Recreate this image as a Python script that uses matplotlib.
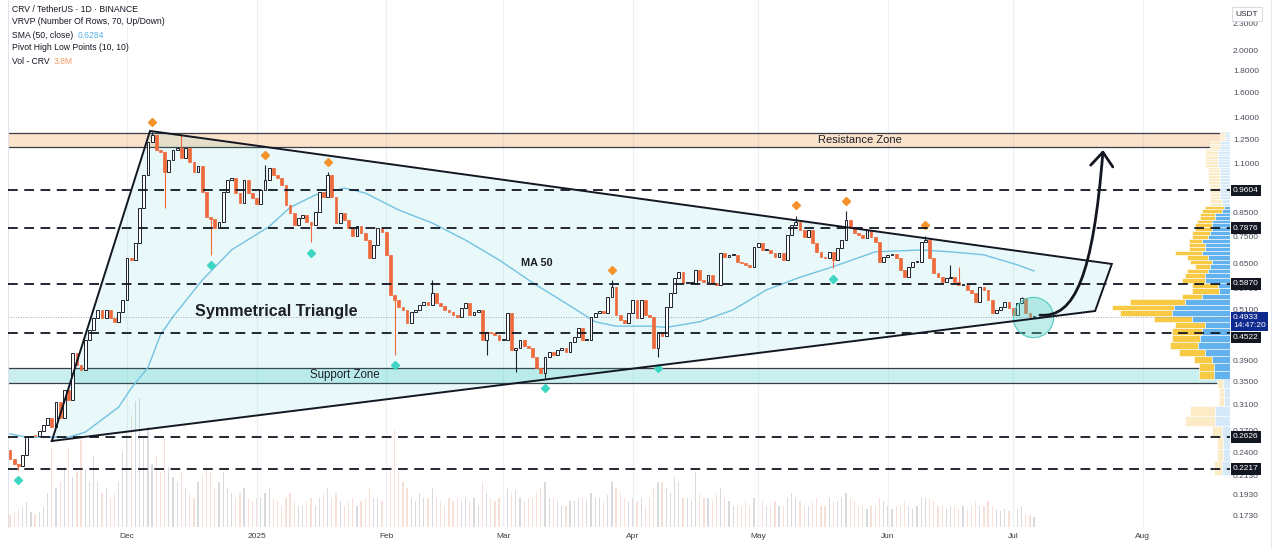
import numpy as np
import pandas as pd
import matplotlib
matplotlib.use("Agg")
import matplotlib.pyplot as plt
import matplotlib.transforms as mtransforms
from matplotlib.patches import Polygon, Rectangle, FancyArrowPatch
from matplotlib.path import Path
from matplotlib.ticker import NullLocator
from matplotlib.lines import Line2D

plt.rcParams['font.family'] = ['Liberation Sans', 'DejaVu Sans']

# ---------------- data ----------------
start_date = "2024-11-03"
first_open = 0.245
closes = [
    0.233, 0.227, 0.225, 0.238, 0.262, 0.264, 0.263, 0.270, 0.280, 0.290,
    0.277, 0.316, 0.290, 0.336, 0.319, 0.408, 0.383, 0.373, 0.437, 0.461,
    0.490, 0.512, 0.490, 0.512, 0.490, 0.480, 0.506, 0.539, 0.673, 0.666,
    0.727, 0.875, 1.041, 1.238, 1.286, 1.188, 1.175, 1.058, 1.127, 1.188,
    1.200, 1.139, 1.200, 1.115, 1.058, 1.092, 0.952, 0.835, 0.826, 0.788,
    0.813, 0.952, 1.014, 1.025, 0.947, 0.899, 1.014, 0.947, 0.923, 0.894,
    0.962, 1.014, 1.080, 1.041, 1.025, 0.988, 0.889, 0.852, 0.801, 0.830,
    0.844, 0.813, 0.801, 0.857, 0.952, 0.928, 1.041, 0.928, 0.809, 0.852,
    0.822, 0.788, 0.756, 0.797, 0.768, 0.739, 0.673, 0.720, 0.788, 0.772,
    0.684, 0.554, 0.539, 0.520, 0.512, 0.478, 0.506, 0.512, 0.525, 0.533,
    0.525, 0.560, 0.530, 0.522, 0.512, 0.506, 0.498, 0.493, 0.517, 0.530,
    0.498, 0.506, 0.512, 0.437, 0.456, 0.454, 0.449, 0.437, 0.437, 0.503,
    0.415, 0.419, 0.437, 0.424, 0.419, 0.400, 0.377, 0.368, 0.400, 0.410,
    0.404, 0.415, 0.419, 0.410, 0.433, 0.444, 0.466, 0.437, 0.437, 0.493,
    0.503, 0.509, 0.503, 0.548, 0.578, 0.498, 0.485, 0.478, 0.503, 0.539,
    0.490, 0.539, 0.498, 0.493, 0.419, 0.456, 0.447, 0.520, 0.560, 0.606,
    0.625, 0.590, 0.590, 0.590, 0.632, 0.599, 0.593, 0.616, 0.590, 0.584,
    0.691, 0.677, 0.684, 0.684, 0.659, 0.656, 0.649, 0.642, 0.713, 0.727,
    0.702, 0.702, 0.691, 0.677, 0.691, 0.666, 0.760, 0.801, 0.813, 0.780,
    0.752, 0.780, 0.727, 0.695, 0.677, 0.673, 0.695, 0.666, 0.709, 0.739,
    0.822, 0.788, 0.768, 0.760, 0.748, 0.780, 0.752, 0.731, 0.659, 0.677,
    0.684, 0.688, 0.673, 0.632, 0.609, 0.642, 0.659, 0.659, 0.731, 0.739,
    0.673, 0.622, 0.609, 0.593, 0.606, 0.609, 0.593, 0.584, 0.584, 0.569,
    0.560, 0.533, 0.578, 0.569, 0.539, 0.503, 0.512, 0.520, 0.533, 0.517,
    0.498, 0.530, 0.545, 0.503, 0.493, 0.4933]

wick_high_idx = [34, 41, 61, 76, 101, 144, 188, 200, 219, 225, 227, 242]
wick_high_val = [1.306, 1.300, 1.098, 1.058, 0.599, 0.599, 0.840, 0.862, 0.756, 0.649, 0.642, 0.549]
wick_low_idx = [2, 37, 48, 72, 92, 114, 121, 128, 155, 197]
wick_low_val = [0.221, 0.875, 0.684, 0.731, 0.404, 0.404, 0.370, 0.358, 0.399, 0.637]

volume_m = [
    4.6, 5.7, 6.8, 7.6, 9.5, 5.7, 4.6, 5.7, 7.6, 13,
    30, 15, 17, 23, 30, 19, 21, 33, 22, 17,
    27, 17, 13, 15, 11, 13, 17, 29, 36, 42,
    48, 49, 34, 38, 24, 27, 21, 34, 23, 19,
    17, 21, 15, 13, 11, 17, 19, 23, 21, 15,
    17, 21, 15, 13, 11, 13, 15, 11, 10, 11,
    11, 13, 15, 11, 10, 8, 11, 13, 10, 8,
    8, 10, 11, 8, 11, 13, 15, 11, 13, 10,
    8, 10, 11, 8, 10, 11, 15, 11, 11, 10,
    13, 23, 37, 21, 17, 15, 11, 10, 13, 11,
    11, 15, 11, 10, 8, 11, 10, 11, 10, 11,
    10, 11, 8, 17, 13, 11, 10, 11, 10, 15,
    13, 14, 11, 10, 11, 11, 13, 15, 17, 11,
    11, 10, 8, 8, 10, 10, 11, 11, 10, 13,
    11, 11, 10, 12, 17, 15, 13, 11, 10, 11,
    10, 11, 8, 11, 15, 17, 17, 15, 13, 19,
    17, 11, 11, 10, 21, 13, 11, 11, 10, 13,
    15, 11, 10, 8, 8, 8, 10, 8, 11, 13,
    10, 8, 8, 10, 8, 8, 11, 13, 11, 10,
    8, 8, 10, 11, 8, 8, 11, 10, 10, 11,
    13, 11, 10, 8, 8, 7, 8, 8, 11, 10,
    8, 7, 8, 8, 10, 8, 7, 8, 11, 11,
    11, 10, 8, 8, 7, 8, 8, 7, 8, 7,
    8, 10, 8, 8, 10, 8, 7, 6, 7, 6,
    6, 7, 8, 5, 4.5, 3.8]

ma50_idx = [0, 4, 14, 18, 26, 29, 33, 36, 39, 46, 53, 62, 67, 73, 80, 85, 93, 101, 109,
            117, 125, 133, 140, 145, 153, 157, 165, 173, 181, 189, 197, 207, 218, 225,
            233, 241, 245]
ma50_val = [0.2665, 0.262, 0.262, 0.269, 0.307, 0.339, 0.378, 0.449, 0.494, 0.599, 0.702,
            0.794, 0.878, 0.937, 0.972, 0.947, 0.866, 0.809, 0.739, 0.666, 0.591, 0.530,
            0.481, 0.470, 0.470, 0.467, 0.481, 0.512, 0.569, 0.608, 0.643, 0.695, 0.702,
            0.695, 0.684, 0.649, 0.6284]

pivot_high_idx = [34, 61, 76, 144, 188, 200, 219]
pivot_low_idx = [2, 48, 72, 92, 128, 155, 197]

key_levels = [0.9604, 0.7876, 0.5870, 0.4522, 0.2626, 0.2217]
current_price = 0.4933
countdown = "14:47:20"
resistance_zone = (1.205, 1.301)
support_zone = (0.3487, 0.377)

triangle_idx = [10.0, 33.5, 263.6, 259.6]
triangle_price = [0.2568, 1.313, 0.652, 0.509]
arrow_idx = [246.4, 254.8, 259.1, 261.5]
arrow_price = [0.498, 0.4906, 0.615, 1.188]
circle_idx, circle_price = 244.7, 0.493

vp_low, vp_high, vp_rows = 0.215, 1.306, 70
vp_total = [16, 13, 13, 18, 45, 40, 11, 11, 13, 31,
            31, 36, 51, 60, 58, 58, 55, 76, 110, 118,
            100, 48, 38, 38, 48, 45, 43, 35, 40, 43,
            55, 41, 41, 41, 38, 38, 35, 35, 33, 30,
            30, 28, 25, 20, 20, 20, 20, 20, 20, 20,
            22, 22, 22, 22, 22, 22, 25, 25, 25, 25,
            25, 25, 25, 20, 20, 20, 10, 10, 10, 10]
vp_up = [8, 7, 7, 8, 15, 15, 6, 6, 7, 16,
         16, 18, 25, 32, 30, 28, 25, 38, 58, 56,
         45, 28, 11, 12, 25, 25, 22, 20, 18, 22,
         28, 25, 25, 28, 22, 20, 18, 18, 18, 15,
         15, 8, 6, 8, 8, 10, 10, 10, 10, 10,
         10, 10, 10, 10, 10, 10, 12, 12, 12, 12,
         12, 12, 12, 10, 10, 10, 5, 5, 5, 5]
value_area_rows = (9, 42)

price_ticks = [2.3, 2.0, 1.8, 1.6, 1.4, 1.25, 1.1, 0.85, 0.75, 0.65, 0.57, 0.51,
               0.39, 0.35, 0.31, 0.27, 0.24, 0.213, 0.193, 0.173]
month_labels = ["Dec", "2025", "Feb", "Mar", "Apr", "May", "Jun", "Jul", "Aug"]
month_dates = ["2024-12-01", "2025-01-01", "2025-02-01", "2025-03-01", "2025-04-01",
               "2025-05-01", "2025-06-01", "2025-07-01", "2025-08-01"]

legend_lines = ["CRV / TetherUS · 1D · BINANCE", "VRVP (Number Of Rows, 70, Up/Down)",
                "SMA (50, close)", "Pivot High Low Points (10, 10)", "Vol - CRV"]
legend_values = [None, None, "0.6284", None, "3.8M"]

# ---------------- figure ----------------
W, H = 1278, 549
fig = plt.figure(figsize=(W / 100, H / 100), dpi=100)
fig.patch.set_facecolor("white")
rect = [8 / W, 22 / H, 1222 / W, 527 / H]
xlim = (-0.48, 291.87)
ylim = (0.1633, 2.616)

axv = fig.add_axes(rect, zorder=0)
ax = fig.add_axes(rect, zorder=1)
ax.patch.set_alpha(0)

n = min(len(closes), len(volume_m))
x = np.arange(n)
c = np.array(closes[:n])
o = np.r_[first_open, c[:-1]]
body_lo = np.minimum(o, c)
body_hi = np.maximum(o, c)
hi = body_hi.copy()
lo = body_lo.copy()
hi[wick_high_idx] = np.maximum(hi[wick_high_idx], wick_high_val)
lo[wick_low_idx] = np.minimum(lo[wick_low_idx], wick_low_val)
up = c >= o

# volume
vol = np.array(volume_m[:n])
axv.bar(x[up], vol[up], width=0.3, color="#d8dade", lw=0)
axv.bar(x[~up], vol[~up], width=0.3, color="#f6e0d7", lw=0)
axv.set_xlim(*xlim)
axv.set_ylim(0, max(vol) * 4.09)
axv.axis("off")

ax.set_yscale("log")
ax.set_xlim(*xlim)
ax.set_ylim(*ylim)

# month grid
t0 = pd.Timestamp(start_date)
month_pos = [(pd.Timestamp(d) - t0).days for d in month_dates]
for mp in month_pos:
    ax.axvline(mp, color="#eef0f4", lw=0.9, zorder=0.2)

# zones
ax.axhspan(*resistance_zone, color=(245 / 255, 165 / 255, 95 / 255, 0.32), lw=0, zorder=0.5)
ax.axhspan(*support_zone, color=(77 / 255, 208 / 255, 200 / 255, 0.30), lw=0, zorder=0.5)
for lv in list(resistance_zone) + list(support_zone):
    ax.axhline(lv, color="#3a3d45", lw=0.9, zorder=0.6)

# triangle fill
tri = np.column_stack([triangle_idx, triangle_price])
ax.add_patch(Polygon(tri, closed=True, fc=(40 / 255, 195 / 255, 200 / 255, 0.10), ec="none", zorder=0.7))

# volume profile
blend = mtransforms.blended_transform_factory(ax.transAxes, ax.transData)
step = (vp_high - vp_low) / vp_rows
vmax = max(vp_total)
wscale = 0.0966 / vmax
for k in range(vp_rows):
    y0 = vp_low + k * step
    in_va = value_area_rows[0] <= k <= value_area_rows[1]
    cb = "#62b2ee" if in_va else "#d5e9f9"
    cy = "#f7c944" if in_va else "#fcebc7"
    wt = vp_total[k] * wscale
    wb = vp_up[k] * wscale
    ax.add_patch(Rectangle((1 - wt, y0), wt - wb, step, transform=blend, fc=cy,
                           ec="white", lw=0.4, zorder=0.8))
    ax.add_patch(Rectangle((1 - wb, y0), wb, step, transform=blend, fc=cb,
                           ec="white", lw=0.4, zorder=0.8))

# MA
ax.plot(ma50_idx, ma50_val, color="#72c3e3", lw=1.0, zorder=2)

# current price dotted
ax.axhline(current_price, color="#8c8f99", lw=0.6, ls=(0, (1, 2)), zorder=2)

# candles
dn_col = "#ee6a3c"
up_edge = "#1e222d"
ax.vlines(x[up], lo[up], hi[up], color=up_edge, lw=0.8, zorder=3)
ax.vlines(x[~up], lo[~up], hi[~up], color=dn_col, lw=0.8, zorder=3)
bh = np.maximum(body_hi - body_lo, body_lo * 0.006)
ax.bar(x[up], bh[up], bottom=body_lo[up], width=0.66, color="white", edgecolor=up_edge,
       lw=0.7, zorder=3.1)
ax.bar(x[~up], bh[~up], bottom=body_lo[~up], width=0.66, color=dn_col, edgecolor=dn_col,
       lw=0.5, zorder=3.1)

# pivots
tr_up = mtransforms.offset_copy(ax.transData, fig=fig, y=7.5, units="points")
tr_dn = mtransforms.offset_copy(ax.transData, fig=fig, y=-7.5, units="points")
ax.plot(pivot_high_idx, hi[pivot_high_idx], "D", ms=3.6, color="#f5922c", transform=tr_up, zorder=4)
ax.plot(pivot_low_idx, lo[pivot_low_idx], "D", ms=3.6, color="#3dd6c3", transform=tr_dn, zorder=4)

# key levels
for lv in key_levels:
    ax.axhline(lv, color="#131722", lw=1.3, ls=(0, (5.4, 3.6)), zorder=4)

# triangle edges
ax.plot(np.r_[triangle_idx, triangle_idx[0]], np.r_[triangle_price, triangle_price[0]],
        color="#131722", lw=1.4, zorder=5, solid_joinstyle="miter")

# circle
ax.plot([circle_idx], [circle_price], "o", ms=29, mfc=(0.30, 0.80, 0.76, 0.35),
        mec="#53cbc2", mew=0.8, zorder=4.5)

# arrow
verts = list(zip(arrow_idx, arrow_price))
codes = [Path.MOVETO, Path.CURVE4, Path.CURVE4, Path.CURVE4]
arr = FancyArrowPatch(path=Path(verts, codes), arrowstyle="->,head_length=0.5,head_width=0.4",
                      mutation_scale=20, lw=2.0, color="#131722", zorder=6,
                      transform=ax.transData)
ax.add_patch(arr)

# texts
ax.text(63.6, 0.509, "Symmetrical Triangle", ha="center", va="center", fontsize=11.6,
        fontweight="bold", color="#1c1f26", zorder=6)
ax.text(126, 0.655, "MA 50", ha="center", va="center", fontsize=7.8, fontweight="bold",
        color="#1c1f26", zorder=6)
ax.text(203.3, np.sqrt(resistance_zone[0] * resistance_zone[1]), "Resistance Zone",
        ha="center", va="center", fontsize=8, color="#1c1f26", zorder=6)
ax.text(80.1, np.sqrt(support_zone[0] * support_zone[1]), "Support Zone",
        ha="center", va="center", fontsize=8.3, color="#1c1f26", zorder=6)

# axes styling
ax.yaxis.set_major_locator(NullLocator())
ax.yaxis.set_minor_locator(NullLocator())
ax.set_xticks(month_pos, month_labels)
ax.xaxis.set_minor_locator(NullLocator())
ax.tick_params(axis="x", length=0, labelsize=6, colors="#3b3e47", pad=4)
for s in ["top", "right", "bottom"]:
    ax.spines[s].set_visible(False)
ax.spines["left"].set_color("#e0e3eb")
ax.spines["left"].set_linewidth(0.8)

# price scale
ptrans = mtransforms.blended_transform_factory(fig.transFigure, ax.transData)
lx = 1233 / W
for p in price_ticks:
    ax.text(lx, p, f"{p:.4f}", transform=ptrans, ha="left", va="center", fontsize=6,
            color="#4a4e5a", clip_on=False, zorder=7)
for lv in key_levels:
    tr = ptrans
    if lv == 0.4522:
        tr = ptrans + mtransforms.ScaledTranslation(0, -0.04, fig.dpi_scale_trans)
    ax.text(lx, lv, f"{lv:.4f}", transform=tr, ha="left", va="center", fontsize=6,
            color="white", clip_on=False, zorder=9,
            bbox=dict(boxstyle="square,pad=0.28", fc="#131722", ec="none"))
ctr = ptrans + mtransforms.ScaledTranslation(0, -0.045, fig.dpi_scale_trans)
ax.text(lx, current_price, f"{current_price:.4f}\n{countdown}", transform=ctr, ha="left",
        va="center", fontsize=6, color="white", clip_on=False, zorder=10, linespacing=1.1,
        bbox=dict(boxstyle="square,pad=0.28", fc="#0e2a8e", ec="none"))
fig.text(1247 / W, 1 - 14 / H, "USDT", ha="center", va="center", fontsize=6, color="#2a2e39",
         zorder=10, bbox=dict(boxstyle="square,pad=0.45", fc="white", ec="#d1d4dc", lw=0.6))
fig.add_artist(Line2D([1271 / W, 1271 / W], [0, 1], color="#e6e8ee", lw=0.8))

# legend
for k, line in enumerate(legend_lines):
    t = fig.text(12 / W, 1 - (9 + 13 * k) / H, line, ha="left", va="center", fontsize=6.2,
                 color="#131722")
    if legend_values[k]:
        col = "#5ab4e3" if k == 2 else "#f09a63"
        fig.add_artist(matplotlib.text.Annotation(
            legend_values[k], xy=(1, 0.5), xycoords=t, xytext=(3, 0),
            textcoords="offset points", va="center", ha="left", fontsize=6.2, color=col))

fig.savefig("out.png", dpi=100)
